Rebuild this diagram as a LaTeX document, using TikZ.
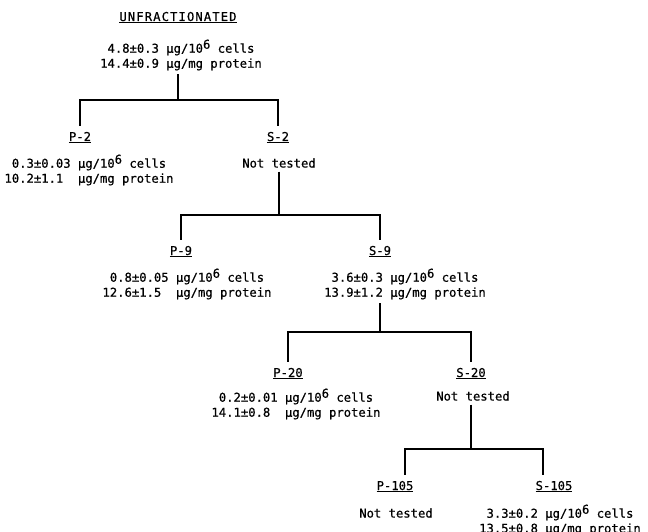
\documentclass[tikz,border=0pt]{standalone}
\usepackage{fontspec}
\setmainfont[FakeBold=0.6]{DejaVu Sans Mono}
\newcommand\mysup[1]{\raisebox{0.6ex}{#1}}
\begin{document}
\begin{tikzpicture}[x=1pt,y=-1pt,
  every node/.style={inner sep=0pt, font=\fontsize{12.2}{15}\selectfont},
  lbl/.style={anchor=base, outer ysep=6pt},
  data/.style={align=center, outer ysep=4pt},
  conn/.style={line width=1.6pt}]
\useasboundingbox (0,0) rectangle (648,532);

\node[lbl] (unf) at (178,21) {\underline{\addfontfeature{LetterSpace=9}UNFRACTIONATED}};
\node[data] (unfd) at (181,55) {4.8±0.3 µg/10\mysup{6} cells\\14.4±0.9 µg/mg protein};
\coordinate (j1) at (178,100);

\node[lbl] (p2) at (80,141) {\underline{P-2}};
\node[lbl] (s2) at (278,141) {\underline{S-2}};
\node[data] (p2d) at (89,170) {0.3±0.03 µg/10\mysup{6} cells\\10.2±1.1\ \ µg/mg protein};
\node[data] (s2d) at (279,163) {Not tested};
\coordinate (j2) at (279,215);

\node[lbl] (p9) at (181,255) {\underline{P-9}};
\node[lbl] (s9) at (380,255) {\underline{S-9}};
\node[data] (p9d) at (187,284) {0.8±0.05 µg/10\mysup{6} cells\\12.6±1.5\ \ µg/mg protein};
\node[data] (s9d) at (405,284) {3.6±0.3 µg/10\mysup{6} cells\\13.9±1.2 µg/mg protein};
\coordinate (j3) at (380,332);

\node[lbl] (p20) at (288,377) {\underline{P-20}};
\node[lbl] (s20) at (471,377) {\underline{S-20}};
\node[data] (p20d) at (296,404) {0.2±0.01 µg/10\mysup{6} cells\\14.1±0.8\ \ µg/mg protein};
\node[data] (s20d) at (473,396) {Not tested};
\coordinate (j4) at (471,449);
\coordinate (d4l) at (405,449);
\coordinate (d4r) at (543,449);

\node[lbl] (p105) at (395,490) {\underline{P-105}};
\node[lbl] (s105) at (554,490) {\underline{S-105}};
\node[data] (p105d) at (396,513) {Not tested};
\node[data] (s105d) at (560,520) {3.3±0.2 µg/10\mysup{6} cells\\13.5±0.8 µg/mg protein};

\draw[conn] (unfd.south -| j1) -- (j1);
\draw[conn] (p2.north) |- (j1) -| (s2.north);
\draw[conn] (s2d.south -| j2) -- (j2);
\draw[conn] (p9.north) |- (j2) -| (s9.north);
\draw[conn] (s9d.south -| j3) -- (j3);
\draw[conn] (p20.north) |- (j3) -| (s20.north);
\draw[conn] (s20d.south -| j4) -- (j4);
\draw[conn] (p105.north -| d4l) |- (j4) -| (s105.north -| d4r);
\end{tikzpicture}
\end{document}
